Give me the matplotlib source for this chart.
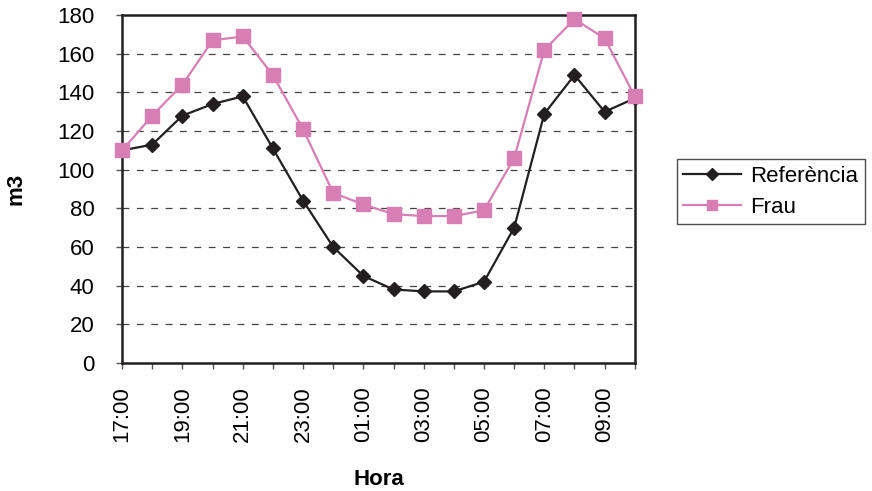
import matplotlib.pyplot as plt
import numpy as np

hours = ['17:00', '18:00', '19:00', '20:00', '21:00', '22:00', '23:00', '00:00', '01:00',
         '02:00', '03:00', '04:00', '05:00', '06:00', '07:00', '08:00', '09:00', '10:00']
referencia = [110, 113, 128, 134, 138, 111, 84, 60, 45, 38, 37, 37, 42, 70, 129, 149, 130, 137]
frau = [110, 128, 144, 167, 169, 149, 121, 88, 82, 77, 76, 76, 79, 106, 162, 178, 168, 138]

plt.rcParams['font.family'] = ['Liberation Sans', 'DejaVu Sans']

fig = plt.figure(figsize=(8.72, 4.91), dpi=100)
ax = fig.add_axes([0.140, 0.261, 0.588, 0.708])

x = np.arange(len(hours))
ax.plot(x, referencia, color='#231f20', lw=1.6, marker='D', ms=7.5,
        mfc='#231f20', mec='#231f20', label='Referència', zorder=3, clip_on=False)
ax.plot(x, frau, color='#d77fb5', lw=1.6, marker='s', ms=10,
        mfc='#d77fb5', mec='#d77fb5', label='Frau', zorder=4, clip_on=False)

ax.set_xlim(0, len(hours) - 1)
ax.set_ylim(0, 180)
ax.set_yticks(range(0, 181, 20))
ax.set_xticks(x)
ax.set_xticklabels([h if i % 2 == 0 else '' for i, h in enumerate(hours)], rotation=90)
ax.tick_params(axis='both', labelsize=16, direction='out', length=4, width=1, color='#555555')
ax.tick_params(axis='x', pad=13)
ax.tick_params(axis='y', pad=16)

for y in range(20, 180, 20):
    ax.axhline(y, color='#444444', lw=0.9, ls=(0, (5.5, 6)), zorder=1)

for s in ax.spines.values():
    s.set_linewidth(1.8)
    s.set_color('#231f20')

ax.set_ylabel('m3', fontsize=16, fontweight='bold', labelpad=22)
ax.set_xlabel('Hora', fontsize=16, fontweight='bold', labelpad=19)

leg = fig.legend(loc='upper left', bbox_to_anchor=(0.776, 0.676), fontsize=16,
                 frameon=True, fancybox=False, edgecolor='#231f20',
                 handlelength=2.6, borderpad=0.3, labelspacing=0.45, handletextpad=0.4,
                 borderaxespad=0)
leg.get_frame().set_linewidth(1.0)
leg.legend_handles[0].set_markersize(6.5)
leg.legend_handles[1].set_markersize(7)

fig.savefig('out.png', dpi=100)
